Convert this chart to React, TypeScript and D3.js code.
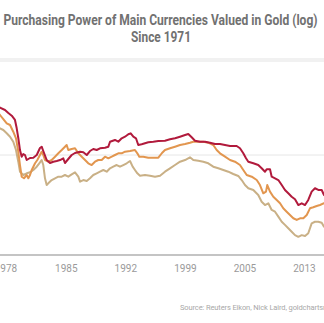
import React from "react";
import * as d3 from "d3";

const W = 324;
const H = 323;

const titleLines = ["Purchasing Power of Main Currencies Valued in Gold (log)", "Since 1971"];
const sourceText = "Source: Reuters Eikon, Nick Laird, goldchartsrus.com";

const tickDates = [1978.6, 1985.7, 1992.7, 1999.7, 2006.7, 2013.7];
const tickLabels = ["1978", "1985", "1992", "1999", "2005", "2013"];
const gridValues = [10];

const redYears = [1977.55, 1977.9, 1978.49, 1978.88, 1979.28, 1979.66, 1979.86, 1980.05, 1980.25, 1980.45, 1980.64, 1980.84, 1981.04, 1981.43, 1981.82, 1982.22, 1982.6, 1982.8, 1982.99, 1983.39, 1983.78, 1984.17, 1984.57, 1984.96, 1985.34, 1985.54, 1985.93, 1986.33, 1986.72, 1987.31, 1987.7, 1988.1, 1988.48, 1988.87, 1989.27, 1989.66, 1990.25, 1990.64, 1990.84, 1991.42, 1991.81, 1992.21, 1992.6, 1992.99, 1993.27, 1993.58, 1993.89, 1994.16, 1994.56, 1994.95, 1995.34, 1995.93, 1996.52, 1997.3, 1997.89, 1998.48, 1999.07, 1999.66, 2000.04, 2000.44, 2000.83, 2001.42, 2002.01, 2002.59, 2003.18, 2003.77, 2004.36, 2004.95, 2005.73, 2006.12, 2006.51, 2006.83, 2007.1, 2007.69, 2008.27, 2008.67, 2009.06, 2009.26, 2009.65, 2009.85, 2010.24, 2010.63, 2011.03, 2011.41, 2011.8, 2012.2, 2012.59, 2012.98, 2013.38, 2013.77, 2014.15, 2014.55, 2014.94, 2015.33, 2015.73, 2016.0, 2016.35];
const redValues = [31.6, 29.7, 28.2, 26.3, 24.7, 22.4, 18.6, 14.8, 11.2, 9.62, 10.23, 10.0, 8.91, 9.33, 9.4, 10.0, 11.75, 12.11, 10.96, 8.91, 8.32, 8.57, 8.71, 8.91, 9.27, 8.32, 9.12, 10.0, 10.47, 10.79, 10.64, 10.0, 10.96, 11.48, 11.22, 11.67, 11.83, 12.11, 13.58, 14.13, 13.58, 14.69, 15.24, 16.11, 16.48, 15.24, 14.69, 12.59, 12.79, 13.09, 13.4, 13.58, 13.8, 13.9, 14.35, 14.69, 15.24, 15.85, 16.22, 15.03, 13.9, 13.58, 13.58, 13.27, 12.88, 12.88, 12.59, 12.3, 12.3, 11.67, 10.4, 9.27, 8.57, 8.26, 7.94, 7.36, 6.81, 7.19, 7.19, 6.07, 5.85, 5.62, 5.01, 4.47, 4.14, 3.83, 3.61, 3.16, 3.29, 3.16, 3.55, 4.3, 4.65, 4.47, 4.47, 3.98, 3.8];

const orangeYears = [1977.55, 1977.9, 1978.29, 1978.69, 1979.08, 1979.46, 1979.78, 1980.05, 1980.25, 1980.45, 1980.72, 1981.04, 1981.23, 1981.43, 1981.63, 1981.82, 1982.02, 1982.29, 1982.6, 1982.8, 1982.99, 1983.19, 1983.58, 1983.98, 1984.37, 1984.76, 1985.16, 1985.54, 1985.74, 1985.93, 1986.33, 1986.72, 1987.11, 1987.51, 1987.9, 1988.28, 1988.68, 1989.07, 1989.46, 1989.86, 1990.25, 1990.64, 1991.04, 1991.42, 1991.81, 1992.21, 1992.6, 1993.19, 1993.77, 1994.05, 1994.28, 1994.75, 1995.34, 1995.93, 1996.52, 1996.95, 1997.3, 1997.89, 1998.48, 1999.07, 1999.66, 2000.24, 2000.63, 2001.22, 2001.81, 2002.39, 2002.98, 2003.38, 2003.77, 2004.36, 2004.95, 2005.53, 2006.12, 2006.51, 2006.91, 2007.5, 2008.09, 2008.47, 2008.86, 2009.18, 2009.33, 2009.65, 2010.04, 2010.44, 2010.83, 2011.21, 2011.61, 2012.0, 2012.39, 2012.79, 2013.18, 2013.57, 2013.97, 2014.35, 2014.74, 2015.14, 2015.53, 2016.0, 2016.35];
const orangeValues = [26.9, 25.1, 22.9, 20.75, 19.95, 17.1, 14.69, 10.79, 7.94, 6.07, 5.85, 6.31, 5.85, 6.31, 7.08, 7.64, 8.26, 8.91, 10.0, 10.79, 10.0, 8.91, 8.57, 8.91, 9.62, 10.4, 11.22, 12.11, 12.59, 11.22, 11.48, 11.67, 10.4, 9.62, 8.91, 8.26, 7.94, 8.57, 8.91, 8.91, 9.62, 9.27, 9.62, 10.0, 10.4, 10.4, 10.79, 10.96, 11.22, 10.4, 9.62, 9.62, 9.4, 9.4, 9.4, 10.47, 11.22, 11.67, 12.11, 12.59, 12.88, 13.27, 13.58, 13.58, 13.58, 13.27, 12.59, 11.22, 10.4, 9.62, 8.91, 8.57, 7.94, 7.08, 6.31, 6.07, 5.62, 5.01, 4.14, 4.3, 5.01, 4.3, 3.83, 3.55, 3.29, 2.93, 2.71, 2.51, 2.33, 2.24, 2.33, 2.33, 2.51, 2.93, 3.0, 3.09, 3.16, 3.29, 3.16];

const tanYears = [1977.55, 1977.9, 1978.29, 1978.69, 1979.08, 1979.46, 1979.78, 1980.05, 1980.25, 1980.64, 1981.04, 1981.43, 1981.82, 1982.22, 1982.52, 1982.8, 1982.99, 1983.19, 1983.39, 1983.58, 1983.98, 1984.37, 1984.76, 1985.16, 1985.54, 1985.93, 1986.33, 1986.72, 1987.11, 1987.31, 1987.7, 1988.1, 1988.48, 1988.87, 1989.27, 1989.66, 1990.05, 1990.45, 1990.84, 1991.22, 1991.62, 1992.01, 1992.4, 1992.8, 1993.19, 1993.5, 1993.77, 1994.05, 1994.36, 1994.95, 1995.54, 1996.13, 1996.72, 1997.3, 1997.89, 1998.48, 1999.07, 1999.66, 2000.24, 2000.63, 2001.22, 2001.81, 2002.39, 2002.98, 2003.57, 2004.16, 2004.75, 2005.33, 2005.92, 2006.32, 2006.71, 2007.1, 2007.69, 2008.27, 2008.67, 2009.06, 2009.45, 2009.85, 2010.24, 2010.63, 2011.03, 2011.41, 2011.8, 2012.2, 2012.59, 2012.98, 2013.38, 2013.77, 2014.15, 2014.55, 2014.94, 2015.33, 2015.73, 2016.0, 2016.35];
const tanValues = [19.5, 18.49, 17.78, 16.48, 15.24, 13.58, 11.22, 8.57, 6.81, 6.31, 6.56, 6.71, 7.08, 7.64, 8.26, 8.91, 7.94, 5.85, 5.01, 5.21, 5.62, 5.85, 6.07, 6.07, 6.31, 6.07, 6.41, 6.71, 6.07, 5.41, 5.62, 5.5, 5.85, 6.31, 6.56, 6.81, 7.08, 6.81, 7.36, 7.64, 7.94, 7.64, 7.94, 8.26, 8.71, 7.64, 7.08, 6.56, 6.21, 6.31, 6.21, 6.07, 6.21, 6.81, 7.36, 7.94, 8.57, 8.91, 9.48, 8.91, 8.77, 8.57, 8.26, 7.64, 7.36, 7.08, 6.81, 6.46, 6.17, 5.62, 5.01, 4.65, 4.47, 3.98, 3.41, 3.16, 3.29, 2.82, 2.71, 2.42, 2.15, 2.0, 1.85, 1.71, 1.58, 1.52, 1.58, 1.55, 1.65, 2.07, 2.15, 2.15, 2.1, 1.92, 1.86];

const seriesList = [
  { name: "tan", years: tanYears, values: tanValues, color: "#c9b086" },
  { name: "orange", years: orangeYears, values: orangeValues, color: "#e2964f" },
  { name: "red", years: redYears, values: redValues, color: "#b11a3c" },
];

export default function App() {
  const x = d3.scaleLinear().domain([1977.9, 2016.0]).range([0, 324]);
  const y = d3.scaleLog().domain([1, 10]).range([255, 155]);
  const line = d3
    .line<[number, number]>()
    .x((d) => x(d[0]))
    .y((d) => y(d[1]));

  return (
    <svg
      width={W}
      height={H}
      style={{ position: "absolute", left: 0, top: 0, background: "#fff" }}
      fontFamily="Roboto, 'Noto Sans', sans-serif"
    >
      <rect x={0} y={0} width={W} height={H} fill="#ffffff" />
      <text x={160.5} y={25} textAnchor="middle" fontSize={14} fontWeight="bold" fill="#717171" textLength={314} lengthAdjust="spacingAndGlyphs">
        {titleLines[0]}
      </text>
      <text x={161} y={41.7} textAnchor="middle" fontSize={14} fontWeight="bold" fill="#717171" textLength={60} lengthAdjust="spacingAndGlyphs">
        {titleLines[1]}
      </text>
      <rect x={0} y={58} width={W} height={4} fill="#f1f1f1" />
      {gridValues.map((v) => (
        <line key={v} x1={0} x2={W} y1={y(v)} y2={y(v)} stroke="#e6e6e6" strokeWidth={1} />
      ))}
      {seriesList.map((s) => (
        <path
          key={s.name}
          d={line(s.years.map((yr, i) => [yr, s.values[i]] as [number, number])) || ""}
          fill="none"
          stroke={s.color}
          strokeWidth={2}
          strokeLinejoin="round"
        />
      ))}
      <line x1={0} x2={W} y1={y(1)} y2={y(1)} stroke="#b0b0b0" strokeWidth={1.5} />
      {tickDates.map((t, i) => (
        <text key={t} x={x(t)} y={271.5} textAnchor="middle" fontSize={10} fill="#9a9a9a">
          {tickLabels[i]}
        </text>
      ))}
      <text x={180} y={310} fontSize={7.5} fill="#a8a8a8" letterSpacing={-0.12}>
        {sourceText}
      </text>
    </svg>
  );
}
